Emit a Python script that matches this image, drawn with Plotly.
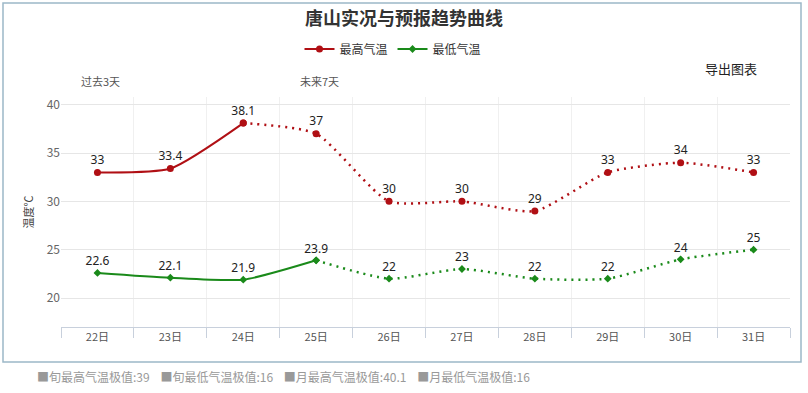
import plotly.graph_objects as go

days = ["22日", "23日", "24日", "25日", "26日", "27日", "28日", "29日", "30日", "31日"]
t_max = [33, 33.4, 38.1, 37, 30, 30, 29, 33, 34, 33]
t_min = [22.6, 22.1, 21.9, 23.9, 22, 23, 22, 22, 24, 25]
max_obs_n = 3   # past days (solid) for max
min_obs_n = 4   # solid segment for min
yticks = [20, 25, 30, 35, 40]
footer = "■旬最高气温极值:39    ■旬最低气温极值:16    ■月最高气温极值:40.1    ■月最低气温极值:16"

RED = "#b00f14"
GREEN = "#1a8a1a"
FONT = "Noto Sans CJK SC"
SMOOTH = 0.6
LBL = dict(size=12, color="#222", family="Noto Sans")

x = list(range(len(days)))
fig = go.Figure()

def lbl(v):
    return f"{v:g}"

fig.add_trace(go.Scatter(
    x=x[:max_obs_n], y=t_max[:max_obs_n], mode="lines+markers+text",
    name="最高气温", legendgroup="max", showlegend=True,
    line=dict(color=RED, width=2, shape="spline", smoothing=SMOOTH),
    marker=dict(color=RED, size=7, symbol="circle"),
    text=[lbl(v) for v in t_max[:max_obs_n]], textposition="top center",
    textfont=LBL, cliponaxis=False,
))
fig.add_trace(go.Scatter(
    x=x[max_obs_n - 1:], y=t_max[max_obs_n - 1:], mode="lines+markers+text",
    name="最高气温", legendgroup="max", showlegend=False,
    line=dict(color=RED, width=2.5, shape="spline", smoothing=SMOOTH, dash="2px,5px"),
    marker=dict(color=RED, size=7, symbol="circle"),
    text=[""] + [lbl(v) for v in t_max[max_obs_n:]], textposition="top center",
    textfont=LBL, cliponaxis=False,
))
fig.add_trace(go.Scatter(
    x=x[:min_obs_n], y=t_min[:min_obs_n], mode="lines+markers+text",
    name="最低气温", legendgroup="min", showlegend=True,
    line=dict(color=GREEN, width=2, shape="spline", smoothing=SMOOTH),
    marker=dict(color=GREEN, size=6, symbol="diamond"),
    text=[lbl(v) for v in t_min[:min_obs_n]], textposition="top center",
    textfont=LBL, cliponaxis=False,
))
fig.add_trace(go.Scatter(
    x=x[min_obs_n - 1:], y=t_min[min_obs_n - 1:], mode="lines+markers+text",
    name="最低气温", legendgroup="min", showlegend=False,
    line=dict(color=GREEN, width=2.5, shape="spline", smoothing=SMOOTH, dash="2px,5px"),
    marker=dict(color=GREEN, size=6, symbol="diamond"),
    text=[""] + [lbl(v) for v in t_min[min_obs_n:]], textposition="top center",
    textfont=LBL, cliponaxis=False,
))

L, R, T, B = 61, 18, 97, 66
W, H = 808, 393
pw, ph = W - L - R, H - T - B

def px(xp):
    return (xp - L) / pw

def py(yp):
    return (H - B - yp) / ph

fig.update_layout(
    width=W, height=H,
    margin=dict(l=L, r=R, t=T, b=B, autoexpand=False),
    paper_bgcolor="white", plot_bgcolor="white",
    font=dict(family=FONT, color="#555"),
    title=dict(text="<b>唐山实况与预报趋势曲线</b>", x=0.5, xanchor="center",
               y=1 - 19 / H, yanchor="middle",
               font=dict(size=18, color="#333", family=FONT)),
    legend=dict(orientation="h", x=px(393), xanchor="center", y=py(49), yanchor="middle",
                font=dict(size=12, color="#333", family=FONT),
                itemwidth=30, tracegroupgap=0),
    showlegend=True,
    xaxis=dict(
        range=[-0.5, len(days) - 0.5], tickvals=x, ticktext=days, automargin=False,
        showgrid=False, zeroline=False, showline=True, linecolor="#c8d0dc", linewidth=1,
        ticks="", tickfont=dict(size=11, color="#555", family=FONT),
        minor=dict(tickvals=[i - 0.5 for i in range(len(days) + 1)], showgrid=True,
                   gridcolor="#f0f0f0", gridwidth=1, ticks="outside", ticklen=10,
                   tickcolor="#c8d0dc"),
    ),
    yaxis=dict(
        range=[17, 40.8], tickvals=yticks, showgrid=True, gridcolor="#e6e6e6",
        zeroline=False, showline=False, ticks="", automargin=False,
        tickfont=dict(size=12, color="#666", family=FONT),
        title=dict(text="温度℃", font=dict(size=11, color="#444", family=FONT), standoff=10),
    ),
)

fig.add_shape(type="rect", xref="paper", yref="paper",
              x0=px(3), x1=px(801), y0=py(362), y1=py(3),
              line=dict(color="#9cb8c8", width=1.5), fillcolor="rgba(0,0,0,0)", layer="below")

def note(text, xp, ypix, size, color, xanchor="center"):
    fig.add_annotation(text=text, xref="paper", yref="paper", x=px(xp), y=py(ypix),
                       xanchor=xanchor, yanchor="middle", showarrow=False,
                       font=dict(size=size, color=color, family=FONT))

note("过去3天", 100, 81, 11, "#555")
note("未来7天", 319, 81, 11, "#555")
note("导出图表", 731, 68, 13, "#222")
note(footer, 35, 376, 12, "#999", xanchor="left")

fig.write_html("out.html", post_script="document.body.style.margin='0px';",
               config={"displayModeBar": False})
